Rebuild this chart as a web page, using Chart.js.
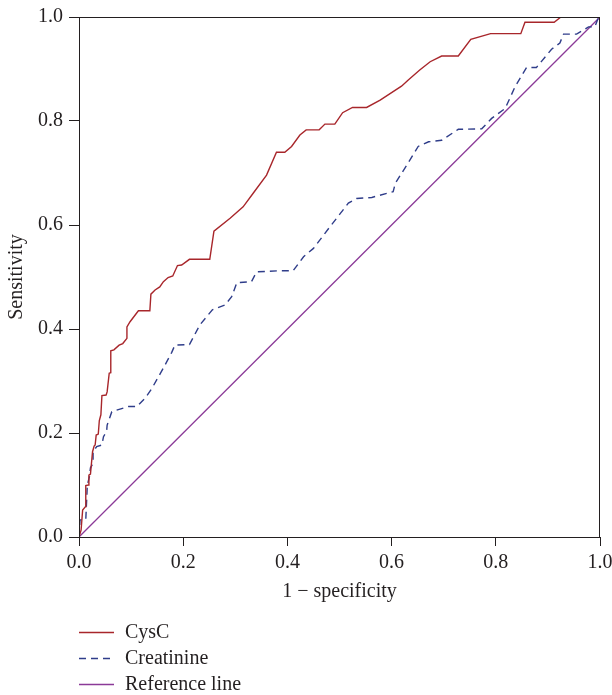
<!DOCTYPE html>
<html>
<head>
<meta charset="utf-8">
<script src="https://cdn.jsdelivr.net/npm/chart.js@4/dist/chart.umd.min.js"></script>
<style>
    html, body { margin: 0; padding: 0; background: #fff; }
    #wrap { width: 612px; height: 695px; }
</style>
</head>
<body>
<div id="wrap"><canvas id="rocChart" width="612" height="695"></canvas></div>
<script>
// ROC curves (x = 1 - specificity, y = sensitivity)
const cysX = [0, 0.004, 0.007, 0.012, 0.013, 0.018, 0.019, 0.022, 0.026, 0.029, 0.031, 0.033, 0.037, 0.039, 0.042, 0.044, 0.052, 0.054, 0.058, 0.061, 0.061, 0.067, 0.077, 0.084, 0.092, 0.092, 0.098, 0.114, 0.136, 0.138, 0.146, 0.155, 0.162, 0.171, 0.18, 0.189, 0.197, 0.212, 0.251, 0.259, 0.29, 0.315, 0.335, 0.36, 0.379, 0.395, 0.408, 0.424, 0.436, 0.461, 0.472, 0.491, 0.506, 0.525, 0.552, 0.578, 0.619, 0.632, 0.654, 0.674, 0.696, 0.728, 0.752, 0.79, 0.848, 0.856, 0.912, 0.925, 1];
const cysY = [0, 0.013, 0.052, 0.058, 0.099, 0.1, 0.119, 0.121, 0.164, 0.175, 0.177, 0.196, 0.198, 0.224, 0.235, 0.272, 0.273, 0.279, 0.315, 0.316, 0.358, 0.36, 0.369, 0.372, 0.382, 0.404, 0.414, 0.435, 0.435, 0.467, 0.475, 0.481, 0.491, 0.499, 0.502, 0.522, 0.523, 0.534, 0.534, 0.588, 0.613, 0.635, 0.662, 0.696, 0.74, 0.74, 0.751, 0.773, 0.783, 0.783, 0.794, 0.794, 0.816, 0.826, 0.826, 0.84, 0.867, 0.879, 0.898, 0.914, 0.925, 0.925, 0.957, 0.968, 0.968, 0.99, 0.99, 1, 1];

const creX = [0, 0.002, 0.013, 0.016, 0.02, 0.022, 0.027, 0.027, 0.034, 0.044, 0.047, 0.053, 0.054, 0.063, 0.095, 0.111, 0.127, 0.14, 0.162, 0.178, 0.184, 0.212, 0.232, 0.256, 0.28, 0.293, 0.303, 0.331, 0.341, 0.386, 0.411, 0.431, 0.45, 0.482, 0.517, 0.533, 0.562, 0.603, 0.607, 0.629, 0.651, 0.671, 0.696, 0.728, 0.773, 0.792, 0.818, 0.837, 0.859, 0.878, 0.907, 0.923, 0.93, 0.955, 0.978, 0.99, 0.997, 1];
const creY = [0, 0.033, 0.033, 0.1, 0.116, 0.133, 0.142, 0.164, 0.174, 0.177, 0.193, 0.203, 0.215, 0.241, 0.251, 0.251, 0.267, 0.286, 0.325, 0.355, 0.369, 0.37, 0.408, 0.437, 0.446, 0.462, 0.489, 0.491, 0.51, 0.512, 0.512, 0.539, 0.555, 0.597, 0.642, 0.651, 0.653, 0.664, 0.68, 0.715, 0.751, 0.76, 0.763, 0.784, 0.785, 0.805, 0.824, 0.866, 0.903, 0.903, 0.938, 0.95, 0.967, 0.967, 0.981, 0.981, 0.999, 1];

const refX = [0, 1];
const refY = [0, 1];

const seriesNames = ['CysC', 'Creatinine', 'Reference line'];
const xTitle = '1 \u2212 specificity';
const yTitle = 'Sensitivity';

const FONT = "'Liberation Serif', 'Times New Roman', serif";
const INK = '#231f20';

function pts(xs, ys) {
    return xs.map((x, i) => ({ x, y: ys[i] }));
}

// frame round the plot + legend stacked under the x axis
const framePlugin = {
    id: 'frame',
    afterDraw(chart) {
        const { ctx, chartArea: a } = chart;
        ctx.save();
        ctx.strokeStyle = INK;
        ctx.lineWidth = 1;
        ctx.strokeRect(a.left + 0.5, a.top + 0.5, a.right - a.left - 1, a.bottom - a.top);

        // legend
        ctx.font = '20px ' + FONT;
        ctx.textBaseline = 'middle';
        ctx.textAlign = 'left';
        chart.data.datasets.forEach((ds, i) => {
            const y = 632 + i * 26;
            ctx.strokeStyle = ds.borderColor;
            ctx.lineWidth = 1.4;
            ctx.setLineDash(ds.borderDash || []);
            ctx.beginPath();
            ctx.moveTo(79, y + 0.5);
            ctx.lineTo(114, y + 0.5);
            ctx.stroke();
            ctx.setLineDash([]);
            ctx.fillStyle = INK;
            ctx.fillText(ds.label, 125, y + 1);
        });
        ctx.restore();
    }
};

const tickFont = { family: FONT, size: 20 };

new Chart(document.getElementById('rocChart'), {
    type: 'line',
    data: {
        datasets: [{
            label: seriesNames[0],
            data: pts(cysX, cysY),
            borderColor: '#a8262b',
            borderWidth: 1.4,
            pointRadius: 0,
            tension: 0
        }, {
            label: seriesNames[1],
            data: pts(creX, creY),
            borderColor: '#2f3d8a',
            borderWidth: 1.4,
            borderDash: [7, 5],
            pointRadius: 0,
            tension: 0
        }, {
            label: seriesNames[2],
            data: pts(refX, refY),
            borderColor: '#8b3a98',
            borderWidth: 1.3,
            pointRadius: 0,
            tension: 0
        }]
    },
    options: {
        responsive: false,
        animation: false,
        layout: { padding: { top: 17, right: 12, bottom: 88, left: 0 } },
        plugins: { legend: { display: false }, tooltip: { enabled: false } },
        scales: {
            x: {
                type: 'linear',
                min: 0,
                max: 1,
                afterFit: s => { s.height = 70; s.paddingLeft = 0; s.paddingRight = 0; },
                grid: { drawOnChartArea: false, tickLength: 9, color: INK },
                border: { color: INK },
                ticks: { stepSize: 0.2, color: INK, font: tickFont, padding: 5, callback: v => v.toFixed(1) },
                title: { display: true, text: xTitle, color: INK, font: tickFont, padding: { top: 4, bottom: 3 } }
            },
            y: {
                min: 0,
                max: 1,
                afterFit: s => { s.width = 79; s.paddingTop = 0; s.paddingBottom = 0; },
                grid: { drawOnChartArea: false, tickLength: 10, color: INK },
                border: { color: INK },
                ticks: { stepSize: 0.2, color: INK, font: tickFont, padding: 6, callback: v => v.toFixed(1) },
                title: { display: true, text: yTitle, color: INK, font: tickFont, padding: { top: 5, bottom: 4 } }
            }
        }
    },
    plugins: [framePlugin]
});
</script>
</body>
</html>
